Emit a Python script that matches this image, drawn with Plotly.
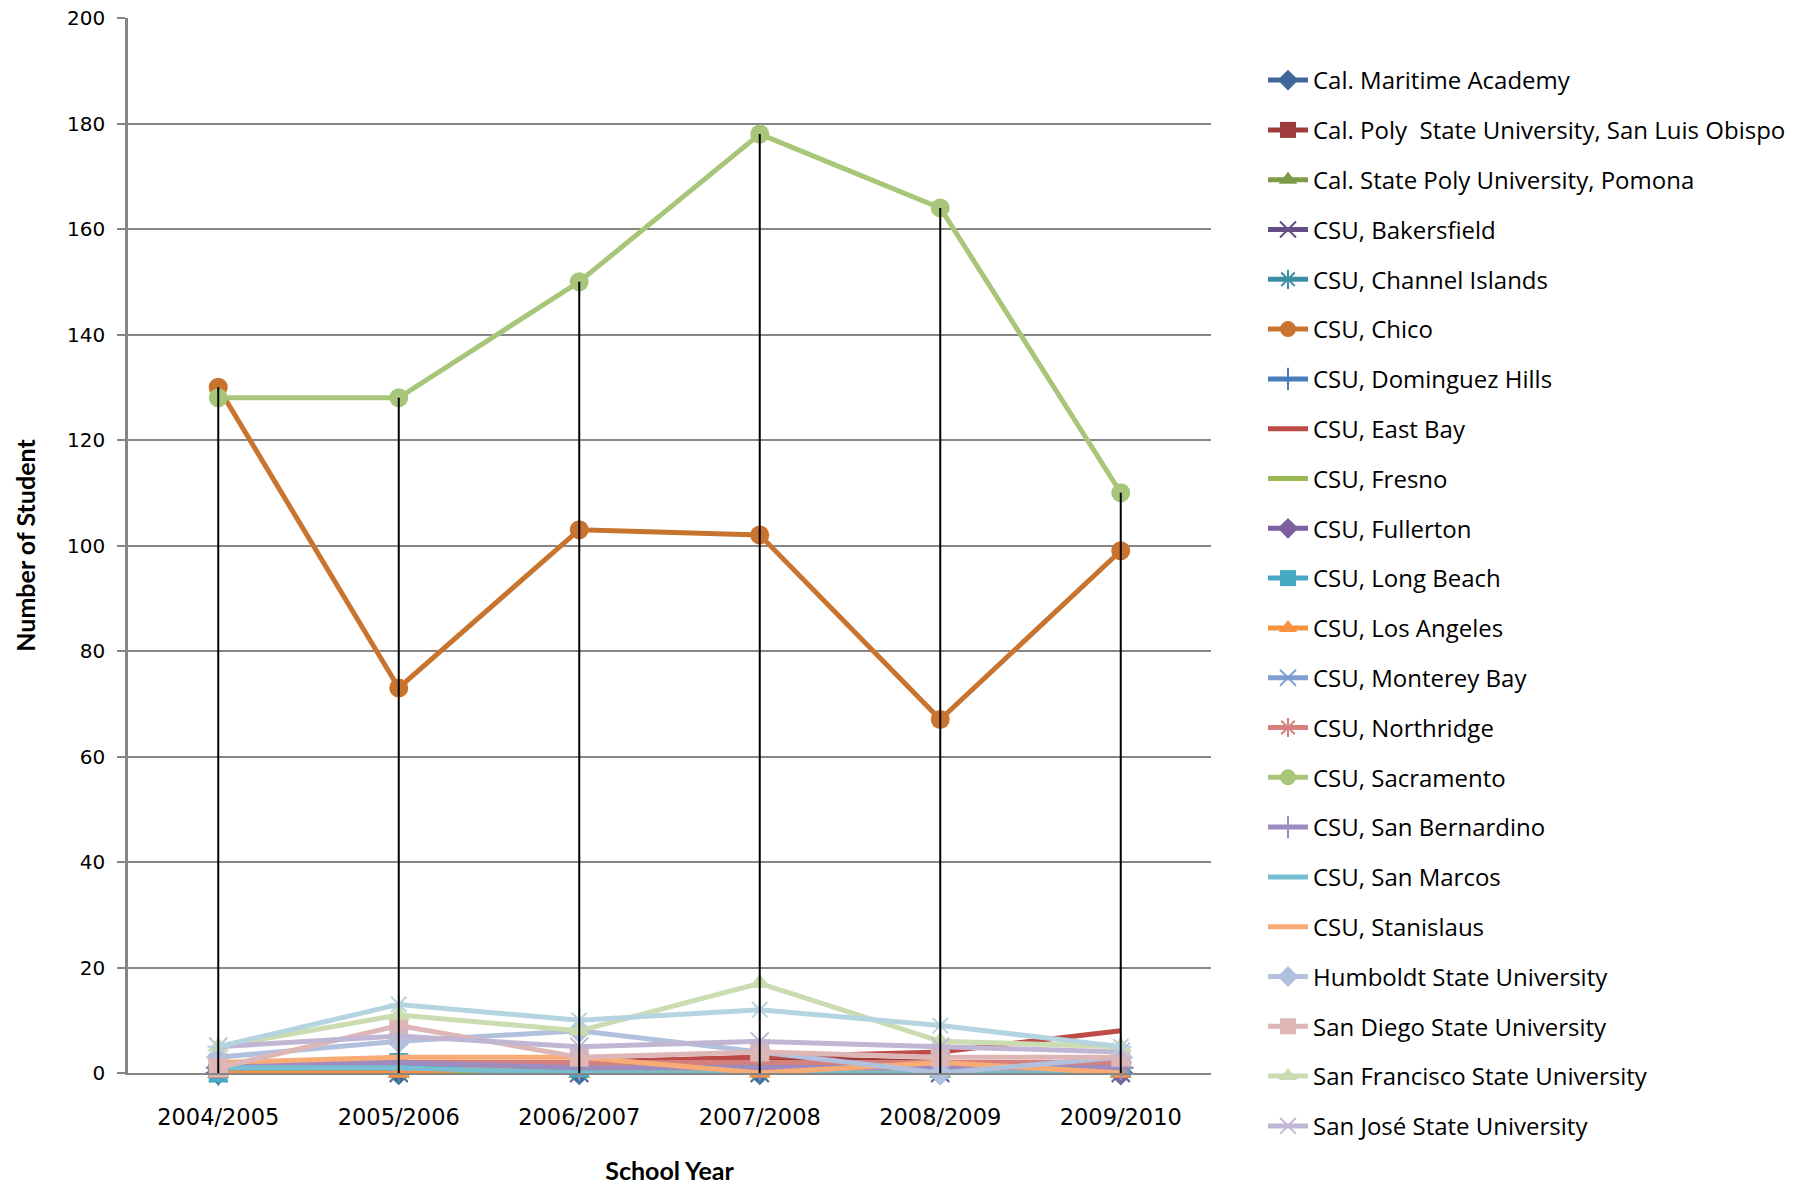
import plotly.graph_objects as go

years = ["2004/2005", "2005/2006", "2006/2007", "2007/2008", "2008/2009", "2009/2010"]

cal_maritime = [0, 0, 0, 0, 0, 0]
cal_poly_slo = [1, 1, 2, 3, 2, 1]
pomona = [0, 0, 0, 1, 0, 0]
bakersfield = [0, 0, 0, 0, 0, 0]
channel_islands = [0, 0, 0, 0, 0, 0]
chico = [130, 73, 103, 102, 67, 99]
dominguez_hills = [0, 1, 1, 1, 2, 1]
east_bay = [1, 2, 2, 3, 4, 8]
fresno = [0, 0, 1, 0, 1, 0]
fullerton = [1, 1, 2, 1, 1, 0]
long_beach = [0, 2, 1, 1, 1, 1]
los_angeles = [0, 0, 2, 0, 1, 0]
monterey_bay = [2, 2, 2, 2, 2, 1]
northridge = [1, 2, 2, 2, 2, 2]
sacramento = [128, 128, 150, 178, 164, 110]
san_bernardino = [1, 2, 1, 1, 1, 1]
san_marcos = [1, 1, 0, 0, 0, 0]
stanislaus = [2, 3, 3, 0, 2, 0]
humboldt = [3, 6, 8, 4, 0, 3]
san_diego = [1, 9, 3, 4, 3, 3]
san_francisco = [5, 11, 8, 17, 6, 5]
san_jose = [5, 7, 5, 6, 5, 4]
sonoma = [5, 13, 10, 12, 9, 5]

series = [
    ("Cal. Maritime Academy", cal_maritime, "#3F6797", "diamond", True),
    ("Cal. Poly  State University, San Luis Obispo", cal_poly_slo, "#9D3C3A", "square", True),
    ("Cal. State Poly University, Pomona", pomona, "#7E9B48", "triangle-up", True),
    ("CSU, Bakersfield", bakersfield, "#664E85", "x-thin", True),
    ("CSU, Channel Islands", channel_islands, "#3A8FA5", "asterisk", True),
    ("CSU, Chico", chico, "#C8742F", "circle", True),
    ("CSU, Dominguez Hills", dominguez_hills, "#4A7EBB", "cross-thin", True),
    ("CSU, East Bay", east_bay, "#BE4B48", None, True),
    ("CSU, Fresno", fresno, "#98B954", None, True),
    ("CSU, Fullerton", fullerton, "#7D60A0", "diamond", True),
    ("CSU, Long Beach", long_beach, "#46AAC5", "square", True),
    ("CSU, Los Angeles", los_angeles, "#F69240", "triangle-up", True),
    ("CSU, Monterey Bay", monterey_bay, "#7F9FD4", "x-thin", True),
    ("CSU, Northridge", northridge, "#D3807E", "asterisk", True),
    ("CSU, Sacramento", sacramento, "#A8C679", "circle", True),
    ("CSU, San Bernardino", san_bernardino, "#9E8BBF", "cross-thin", True),
    ("CSU, San Marcos", san_marcos, "#78BED3", None, True),
    ("CSU, Stanislaus", stanislaus, "#F9AB76", None, True),
    ("Humboldt State University", humboldt, "#B0C0DD", "diamond", True),
    ("San Diego State University", san_diego, "#DDB6B5", "square", True),
    ("San Francisco State University", san_francisco, "#CCDCB1", "triangle-up", True),
    ("San José State University", san_jose, "#C0B6D3", "x-thin", True),
    ("Sonoma State University", sonoma, "#B4D4E0", "asterisk", False),
]

fig = go.Figure()

for i, (name, vals, color, sym, show) in enumerate(series):
    if sym is None:
        mode = "lines"
        marker = dict()
    elif sym in ("x-thin", "cross-thin", "asterisk"):
        mode = "lines+markers"
        marker = dict(symbol=sym + "-open" if sym == "asterisk" else sym, size=18,
                      color=color, line=dict(color=color, width=2))
    else:
        mode = "lines+markers"
        marker = dict(symbol=sym, size=19, color=color, line=dict(width=0))
    fig.add_trace(go.Scatter(
        x=years, y=vals, name=name, mode=mode,
        line=dict(color=color, width=5),
        marker=marker, showlegend=show, legendgroup=f"g{i}",
        cliponaxis=False,
    ))

# drop lines from the highest point of each category down to the axis
all_vals = [s[1] for s in series]
drop_x, drop_y = [], []
for j, yr in enumerate(years):
    top = max(v[j] for v in all_vals)
    drop_x += [yr, yr, None]
    drop_y += [0, top, None]
fig.add_trace(go.Scatter(x=drop_x, y=drop_y, mode="lines",
                         line=dict(color="black", width=2),
                         showlegend=False, hoverinfo="skip"))

grid = "#868686"
fig.update_layout(
    width=1808, height=1186,
    margin=dict(l=128, r=597, t=18, b=113),
    paper_bgcolor="white", plot_bgcolor="white",
    font=dict(family="Lato", color="black"),
    legend=dict(
        x=(1263 - 128) / 1083, xanchor="left", y=1 - (58 - 18) / 1055, yanchor="top",
        font=dict(family="Open Sans", size=24, color="black"),
        tracegroupgap=15.6, itemwidth=40, maxheight=1186,
        bgcolor="rgba(0,0,0,0)",
    ),
    xaxis=dict(
        type="category", range=[-0.5, 5.5], automargin=False,
        showgrid=False, showline=True, linecolor=grid, linewidth=2,
        ticks="", tickfont=dict(family="DejaVu Sans", size=22.5),
        ticklabelstandoff=23,
        title=dict(text="<b>School Year</b>", font=dict(family="Lato", size=25),
                   standoff=33),
        zeroline=False,
    ),
    yaxis=dict(
        range=[0, 200], dtick=20, automargin=False,
        showgrid=True, gridcolor=grid, gridwidth=1.5,
        showline=True, linecolor=grid, linewidth=2.5,
        ticks="outside", ticklen=8, tickcolor=grid, tickwidth=1.5,
        tickfont=dict(family="DejaVu Sans", size=20),
        ticklabelstandoff=8,
        title=dict(text="<b>Number of Student</b>", font=dict(family="Lato", size=25),
                   standoff=25),
        zeroline=False,
    ),
)

fig.write_html("out.html", config={"displayModeBar": False},
               post_script="document.body.style.margin='0';document.body.style.overflow='hidden';")
